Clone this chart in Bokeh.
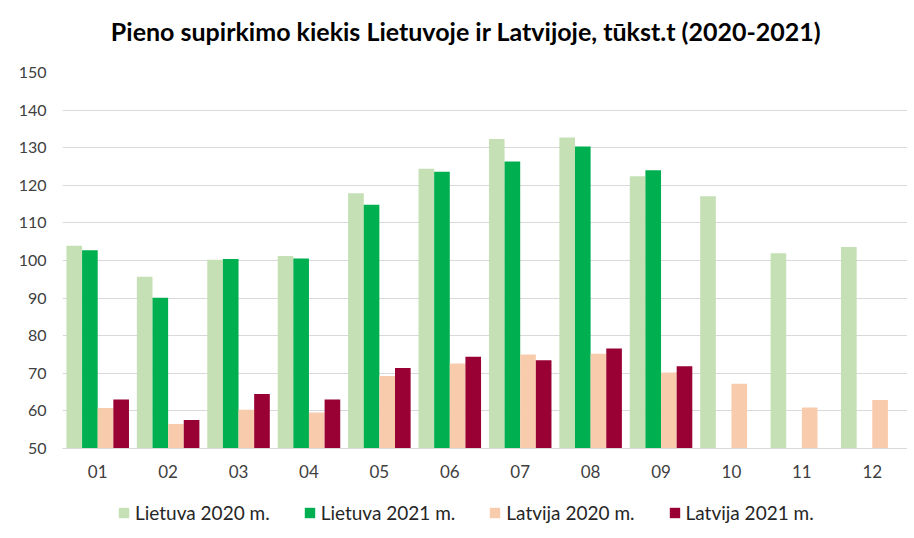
import numpy as np
from bokeh.plotting import figure
from bokeh.layouts import column
from bokeh.models import ColumnDataSource, FactorRange, Range1d, Legend, LegendItem, FixedTicker, Label
from bokeh.transform import dodge
from bokeh.embed import file_html
from bokeh.resources import INLINE

months = ["01", "02", "03", "04", "05", "06", "07", "08", "09", "10", "11", "12"]
lietuva_2020 = [103.9, 95.7, 100.2, 101.2, 117.9, 124.4, 132.3, 132.7, 122.4, 117.1, 101.9, 103.6]
lietuva_2021 = [102.7, 90.1, 100.4, 100.5, 114.8, 123.6, 126.3, 130.3, 124.0, np.nan, np.nan, np.nan]
latvija_2020 = [60.8, 56.5, 60.3, 59.6, 69.3, 72.6, 75.0, 75.2, 70.2, 67.2, 60.9, 62.9]
latvija_2021 = [63.0, 57.6, 64.5, 63.0, 71.4, 74.4, 73.5, 76.6, 71.9, np.nan, np.nan, np.nan]
series_names = ["Lietuva 2020 m.", "Lietuva 2021 m.", "Latvija 2020 m.", "Latvija 2021 m."]
colors = ["#C5E0B4", "#00B050", "#F8CBAD", "#990033"]
y_ticks = [50, 60, 70, 80, 90, 100, 110, 120, 130, 140, 150]
title_text = "Pieno supirkimo kiekis Lietuvoje ir Latvijoje, tūkst.t (2020-2021)"

source = ColumnDataSource(dict(month=months, l20=lietuva_2020, l21=lietuva_2021,
                               v20=latvija_2020, v21=latvija_2021))

FONT = "Lato"
TXT = "#404040"
W = 907
LEFT = 62

# title strip (its frame is aligned with the chart frame, which starts at LEFT px)
pt = figure(width=W, height=62, x_range=Range1d(LEFT, W), y_range=Range1d(0, 62),
            x_axis_location=None, y_axis_location=None, output_backend="svg",
            toolbar_location=None, min_border=0)
pt.grid.visible = False
pt.outline_line_color = None
pt.add_layout(Label(x=465.5, y=32, text=title_text, text_align="center", text_baseline="middle",
                    text_font=FONT, text_font_size="25px", text_font_style="bold",
                    text_color="#000000"))

# main chart
p = figure(x_range=FactorRange(*months, range_padding=0), y_range=Range1d(50, 150),
           width=W, height=423, output_backend="svg", toolbar_location=None,
           min_border_left=LEFT, min_border_right=0, min_border_top=10, min_border_bottom=37)

keys = ["l20", "l21", "v20", "v21"]
offsets = [-0.333, -0.111, 0.111, 0.333]
for k, off, c in zip(keys, offsets, colors):
    p.vbar(x=dodge("month", off, range=p.x_range), top=k, bottom=50, width=0.222,
           source=source, fill_color=c, line_color=None)

p.yaxis.ticker = FixedTicker(ticks=y_ticks)
p.yaxis.axis_line_color = None
p.yaxis.major_tick_line_color = None
p.yaxis.minor_tick_line_color = None
p.yaxis.major_label_standoff = 10
p.yaxis.major_label_text_font = FONT
p.yaxis.major_label_text_font_size = "16px"
p.yaxis.major_label_text_color = TXT

p.xaxis.axis_line_color = "#D9D9D9"
p.xaxis.major_tick_line_color = None
p.xaxis.minor_tick_line_color = None
p.xaxis.major_label_standoff = 10
p.xaxis.major_label_text_font = FONT
p.xaxis.major_label_text_font_size = "17px"
p.xaxis.major_label_text_color = TXT

p.xgrid.grid_line_color = None
p.ygrid.grid_line_color = "#D9D9D9"
p.outline_line_color = None

# legend strip
pl = figure(width=W, height=53, x_range=Range1d(0, 1), y_range=Range1d(0, 1),
            x_axis_location=None, y_axis_location=None, output_backend="svg",
            toolbar_location=None, min_border=0)
pl.grid.visible = False
pl.outline_line_color = None
leg_renderers = [pl.vbar(x=[np.nan], top=[np.nan], width=0.1, fill_color=c, line_color=None)
                 for c in colors]
legend = Legend(items=[LegendItem(label=n, renderers=[r]) for n, r in zip(series_names, leg_renderers)],
                orientation="horizontal", location=(117 - LEFT, 14))
legend.label_text_font = FONT
legend.label_text_font_size = "19px"
legend.label_text_color = "#262626"
legend.glyph_width = 13
legend.glyph_height = 13
legend.label_standoff = 5
legend.spacing = 33
legend.padding = 5
legend.margin = 0
legend.border_line_color = None
legend.background_fill_alpha = 0
pl.add_layout(legend, "center")

layout = column(pt, p, pl, spacing=0)
open("out.html", "w").write(file_html(layout, INLINE))
